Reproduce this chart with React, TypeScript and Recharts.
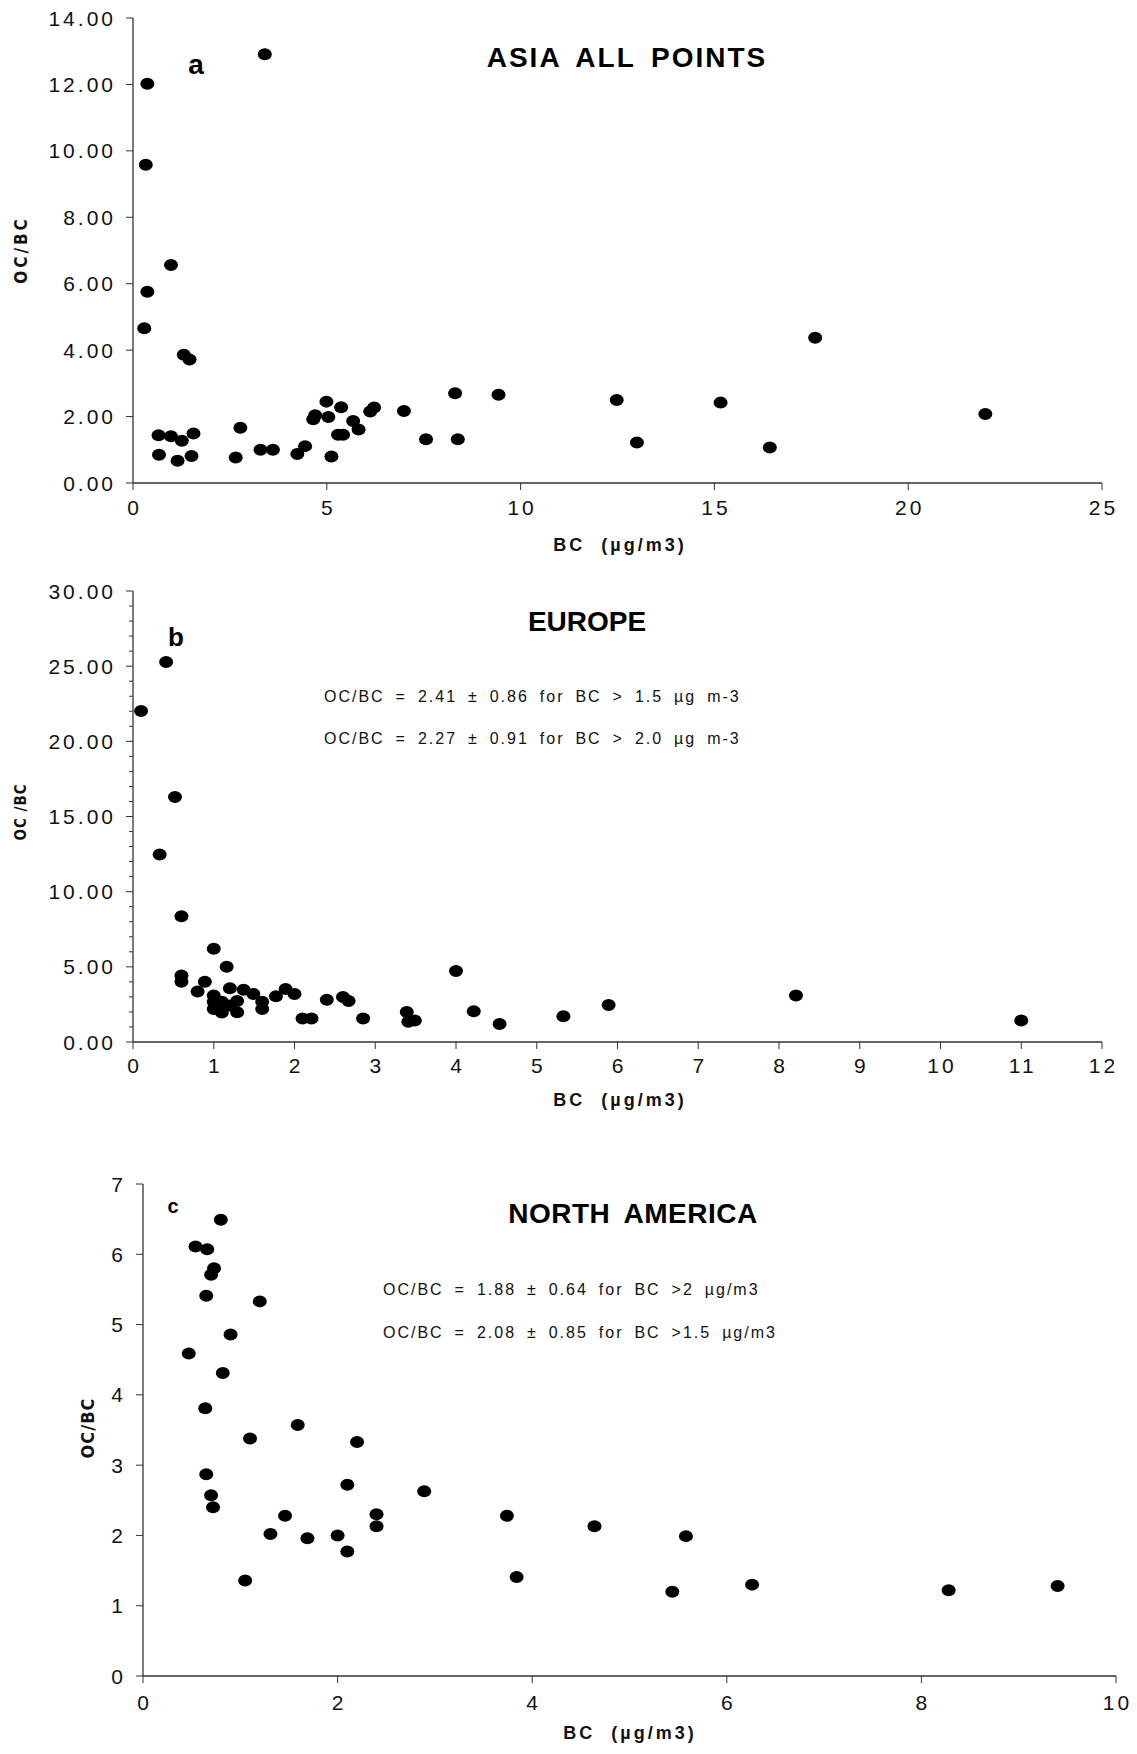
import React from 'react';
import { ScatterChart, Scatter, XAxis, YAxis } from 'recharts';

// Panel a - Asia
const asiaBC = [3.4, 0.37, 0.33, 0.98, 0.37, 0.29, 1.31, 1.46, 0.66, 0.98, 1.26, 1.56, 0.67, 1.15, 1.51, 2.65, 2.77, 3.29, 3.61, 4.24, 4.44, 4.65, 4.7, 4.99, 5.04, 5.12, 5.37, 5.29, 5.42, 5.68, 5.82, 6.12, 6.22, 6.99, 7.56, 8.31, 8.38, 9.43, 12.48, 13.0, 15.16, 16.43, 17.6, 21.99];
const asiaRatio = [12.91, 12.02, 9.58, 6.56, 5.76, 4.66, 3.86, 3.72, 1.44, 1.41, 1.27, 1.49, 0.85, 0.67, 0.81, 0.77, 1.66, 1.0, 1.0, 0.87, 1.11, 1.92, 2.04, 2.45, 1.99, 0.8, 2.28, 1.45, 1.45, 1.87, 1.61, 2.15, 2.27, 2.17, 1.32, 2.7, 1.32, 2.66, 2.5, 1.22, 2.42, 1.07, 4.37, 2.08];
const asiaXTicks = [0, 5, 10, 15, 20, 25];
const asiaYTicks = [0, 2, 4, 6, 8, 10, 12, 14];

// Panel b - Europe
const euBC = [0.41, 0.1, 0.52, 0.33, 0.6, 1.0, 1.16, 4.0, 0.6, 0.6, 0.89, 0.8, 1.2, 1.37, 1.49, 1.6, 1.6, 1.77, 1.89, 2.0, 1.0, 1.0, 1.0, 1.1, 1.1, 1.19, 1.29, 1.29, 2.1, 2.21, 2.4, 2.6, 2.67, 2.85, 3.39, 3.41, 3.49, 4.22, 4.54, 5.33, 5.89, 8.21, 11.0];
const euRatio = [25.28, 22.01, 16.29, 12.47, 8.37, 6.2, 5.01, 4.72, 4.43, 4.01, 4.01, 3.36, 3.58, 3.48, 3.2, 2.67, 2.19, 3.05, 3.53, 3.2, 3.1, 2.67, 2.19, 2.67, 1.96, 2.43, 2.72, 1.98, 1.57, 1.57, 2.81, 3.0, 2.72, 1.57, 2.0, 1.34, 1.43, 2.05, 1.19, 1.72, 2.46, 3.1, 1.43];
const euXTicks = [0, 1, 2, 3, 4, 5, 6, 7, 8, 9, 10, 11, 12];
const euYTicks = [0, 1, 2, 3, 4, 5, 6, 7, 8, 9, 10, 11, 12, 13, 14, 15, 16, 17, 18, 19, 20, 21, 22, 23, 24, 25, 26, 27, 28, 29, 30];
const euYLabelled = [0, 5, 10, 15, 20, 25, 30];

// Panel c - North America
const naBC = [0.8, 0.54, 0.66, 0.73, 0.7, 0.65, 1.2, 0.9, 0.47, 0.82, 0.64, 1.59, 1.1, 2.2, 0.65, 2.1, 0.7, 0.72, 2.89, 1.46, 2.4, 2.4, 1.31, 1.69, 2.0, 2.1, 1.05, 3.74, 3.84, 4.64, 5.58, 5.44, 6.26, 8.28, 9.4];
const naRatio = [6.49, 6.11, 6.07, 5.8, 5.71, 5.41, 5.33, 4.86, 4.59, 4.31, 3.81, 3.57, 3.38, 3.33, 2.87, 2.72, 2.57, 2.4, 2.63, 2.28, 2.3, 2.13, 2.02, 1.96, 2.0, 1.77, 1.36, 2.28, 1.41, 2.13, 1.99, 1.2, 1.3, 1.22, 1.28];
const naXTicks = [0, 2, 4, 6, 8, 10];
const naYTicks = [0, 1, 2, 3, 4, 5, 6, 7];

const AXIS = '#333';
const BOX = '#8c8c8c';
const TXT = '#111';
const SANS = "'Liberation Sans', Arial, sans-serif";

type PanelProps = {
  top: number;
  height: number;
  mTop: number;
  mBottom: number;
  mRight: number;
  yAxisW: number;
  bc: number[];
  ratio: number[];
  xMax: number;
  yMax: number;
  xTicks: number[];
  yTicks: number[];
  yLabelled: number[];
  yFmt: (v: number) => string;
  xDy: number;
  dotR: [number, number];
};

function Panel(p: PanelProps) {
  const data = p.bc.map((x, i) => ({ bc: x, ratio: p.ratio[i] }));
  const dot = (d: any) => <ellipse cx={d.cx} cy={d.cy} rx={p.dotR[0]} ry={p.dotR[1]} fill="#000" />;
  const xTick = (t: any) => (
    <g>
      <line x1={t.x} x2={t.x} y1={t.y} y2={t.y + 7} stroke={AXIS} />
      <text x={t.x + 1.5} y={t.y + p.xDy} textAnchor="middle" fontFamily={SANS} fontSize={21} letterSpacing={3} fill={TXT}>
        {t.payload.value}
      </text>
    </g>
  );
  const yTick = (t: any) => {
    const major = p.yLabelled.includes(t.payload.value);
    return (
      <g>
        <line x1={t.x} x2={t.x - (major ? 7 : 4)} y1={t.y} y2={t.y} stroke={AXIS} />
        {major && (
          <text x={t.x - 17} y={t.y} dy="0.36em" textAnchor="end" fontFamily={SANS} fontSize={21} letterSpacing={3} fill={TXT}>
            {p.yFmt(t.payload.value)}
          </text>
        )}
      </g>
    );
  };
  return (
    <div style={{ position: 'absolute', left: 0, top: p.top }}>
      <ScatterChart width={1137} height={p.height} margin={{ top: p.mTop, right: p.mRight, bottom: p.mBottom, left: 0 }}>
        <XAxis xAxisId="top" orientation="top" type="number" domain={[0, p.xMax]} height={0} tick={false} tickLine={false} axisLine={{ stroke: BOX }} />
        <YAxis yAxisId="right" orientation="right" type="number" domain={[0, p.yMax]} width={0} tick={false} tickLine={false} axisLine={{ stroke: BOX }} />
        <XAxis xAxisId="x" type="number" dataKey="bc" domain={[0, p.xMax]} ticks={p.xTicks} interval={0} height={40} tickSize={0} tickMargin={0} tickLine={false} tick={xTick} axisLine={{ stroke: AXIS, strokeWidth: 1.3 }} allowDataOverflow />
        <YAxis yAxisId="y" type="number" dataKey="ratio" domain={[0, p.yMax]} ticks={p.yTicks} interval={0} width={p.yAxisW} tickSize={0} tickMargin={0} tickLine={false} tick={yTick} axisLine={{ stroke: AXIS, strokeWidth: 1.3 }} allowDataOverflow />
        <Scatter xAxisId="x" yAxisId="y" data={data} shape={dot} isAnimationActive={false} />
      </ScatterChart>
    </div>
  );
}

const note = { fontFamily: SANS, fontSize: 16, letterSpacing: 2, wordSpacing: 4.5, fill: TXT } as const;
const title = { fontFamily: SANS, fontSize: 28, fontWeight: 'bold', wordSpacing: 6, fill: '#000' } as const;
const xTitle = { fontFamily: SANS, fontSize: 18, fontWeight: 'bold', letterSpacing: 3, fill: TXT } as const;
const yTitle = { fontFamily: "'DejaVu Sans Condensed', 'DejaVu Sans', sans-serif", fontStretch: 'condensed', fontWeight: 'bold', fill: TXT } as const;
const xTitleText = 'BC\u00a0\u00a0(µg/m3)';

export default function App() {
  return (
    <div style={{ position: 'absolute', left: 0, top: 0, width: 1137, height: 1754, background: '#fff' }}>
      <Panel top={0} height={570} mTop={18} mBottom={47} mRight={35} yAxisW={133} bc={asiaBC} ratio={asiaRatio} xMax={25} yMax={14} xTicks={asiaXTicks} yTicks={asiaYTicks} yLabelled={asiaYTicks} yFmt={(v) => v.toFixed(2)} xDy={32} dotR={[7, 6]} />
      <Panel top={560} height={560} mTop={31} mBottom={38} mRight={35} yAxisW={133} bc={euBC} ratio={euRatio} xMax={12} yMax={30} xTicks={euXTicks} yTicks={euYTicks} yLabelled={euYLabelled} yFmt={(v) => v.toFixed(2)} xDy={31} dotR={[7, 6]} />
      <Panel top={1140} height={614} mTop={44} mBottom={38} mRight={21} yAxisW={143} bc={naBC} ratio={naRatio} xMax={10} yMax={7} xTicks={naXTicks} yTicks={naYTicks} yLabelled={naYTicks} yFmt={(v) => String(v)} xDy={34} dotR={[7, 6]} />
      <svg width={1137} height={1754} style={{ position: 'absolute', left: 0, top: 0, pointerEvents: 'none' }}>
        <text x={627} y={67} textAnchor="middle" letterSpacing={2} {...title}>ASIA ALL POINTS</text>
        <text x={196} y={74} textAnchor="middle" fontFamily={SANS} fontSize={28} fontWeight="bold">a</text>
        <text x={620} y={551} textAnchor="middle" {...xTitle}>{xTitleText}</text>
        <text x={21} y={250} textAnchor="middle" dominantBaseline="central" transform="rotate(-90 21 250)" fontSize={17} letterSpacing={3} {...yTitle}>OC/BC</text>

        <text x={587} y={631} textAnchor="middle" {...title}>EUROPE</text>
        <text x={176} y={646} textAnchor="middle" fontFamily={SANS} fontSize={26} fontWeight="bold">b</text>
        <text x={324} y={702} {...note}>OC/BC = 2.41 ± 0.86 for BC &gt; 1.5 µg m-3</text>
        <text x={324} y={744} {...note}>OC/BC = 2.27 ± 0.91 for BC &gt; 2.0 µg m-3</text>
        <text x={620} y={1106} textAnchor="middle" {...xTitle}>{xTitleText}</text>
        <text x={21} y={812} textAnchor="middle" dominantBaseline="central" transform="rotate(-90 21 812)" fontSize={15} letterSpacing={1} {...yTitle}>OC /BC</text>

        <text x={633} y={1223} textAnchor="middle" letterSpacing={0.5} {...title}>NORTH AMERICA</text>
        <text x={173} y={1213} textAnchor="middle" fontFamily={SANS} fontSize={20} fontWeight="bold">c</text>
        <text x={383} y={1295} {...note}>OC/BC = 1.88 ± 0.64 for BC &gt;2 µg/m3</text>
        <text x={383} y={1338} {...note}>OC/BC = 2.08 ± 0.85 for BC &gt;1.5 µg/m3</text>
        <text x={630} y={1739} textAnchor="middle" {...xTitle}>{xTitleText}</text>
        <text x={87} y={1428} textAnchor="middle" dominantBaseline="central" transform="rotate(-90 87 1428)" fontSize={18} letterSpacing={1} {...yTitle}>OC/BC</text>
      </svg>
    </div>
  );
}
